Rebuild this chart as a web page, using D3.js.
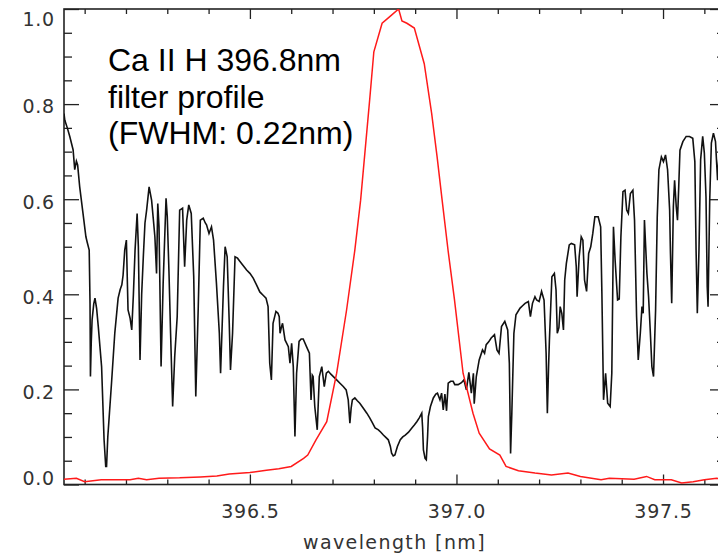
<!DOCTYPE html>
<html>
<head>
<meta charset="utf-8">
<script src="https://cdn.jsdelivr.net/npm/d3@7"></script>
<style>
  html, body { margin: 0; padding: 0; background: #fff; overflow: hidden; }
  svg { display: block; }
</style>
</head>
<body>
<svg id="chart" width="718" height="560"></svg>
<script>
// Solar spectrum around Ca II H (wavelength in nm, normalised intensity)
const spectrumWavelength = [
  396.050, 396.052, 396.058, 396.064, 396.072, 396.076, 396.080, 396.083, 396.088, 396.096,
  396.101, 396.103, 396.106, 396.111, 396.113, 396.114, 396.116, 396.118, 396.122, 396.125,
  396.129, 396.133, 396.141, 396.147, 396.151, 396.153, 396.156, 396.160, 396.165, 396.173,
  396.181, 396.186, 396.190, 396.193, 396.197, 396.201, 396.205, 396.210, 396.214, 396.218,
  396.222, 396.227, 396.230, 396.234, 396.238, 396.242, 396.246, 396.250, 396.256, 396.262,
  396.266, 396.270, 396.274, 396.277, 396.280, 396.285, 396.290, 396.297, 396.300, 396.304,
  396.308, 396.313, 396.318, 396.324, 396.330, 396.337, 396.342, 396.347, 396.352, 396.358,
  396.364, 396.369, 396.375, 396.380, 396.387, 396.392, 396.395, 396.401, 396.407, 396.412,
  396.419, 396.426, 396.429, 396.436, 396.440, 396.445, 396.450, 396.453, 396.458, 396.464,
  396.470, 396.476, 396.484, 396.492, 396.500, 396.508, 396.516, 396.524, 396.532, 396.539,
  396.544, 396.548, 396.552, 396.556, 396.563, 396.568, 396.571, 396.573, 396.576, 396.579,
  396.585, 396.593, 396.597, 396.601, 396.605, 396.609, 396.613, 396.619, 396.624, 396.629,
  396.637, 396.644, 396.648, 396.651, 396.653, 396.657, 396.663, 396.668, 396.674, 396.680,
  396.685, 396.690, 396.696, 396.702, 396.710, 396.718, 396.726, 396.733, 396.738, 396.742,
  396.745, 396.748, 396.754, 396.760, 396.766, 396.775, 396.783, 396.790, 396.795, 396.803,
  396.811, 396.817, 396.823, 396.829, 396.835, 396.840, 396.843, 396.847, 396.851, 396.857,
  396.864, 396.870, 396.876, 396.884, 396.892, 396.898, 396.904, 396.910, 396.916, 396.918,
  396.920, 396.924, 396.927, 396.930, 396.932, 396.937, 396.944, 396.950, 396.954, 396.960,
  396.964, 396.968, 396.972, 396.976, 396.980, 396.986, 396.992, 396.996, 397.004, 397.012,
  397.018, 397.024, 397.030, 397.036, 397.041, 397.043, 397.048, 397.055, 397.063, 397.068,
  397.072, 397.078, 397.084, 397.092, 397.098, 397.103, 397.109, 397.117, 397.124, 397.128,
  397.131, 397.134, 397.139, 397.144, 397.154, 397.160, 397.166, 397.174, 397.179, 397.184,
  397.190, 397.194, 397.200, 397.206, 397.212, 397.217, 397.220, 397.223, 397.225, 397.231,
  397.237, 397.241, 397.244, 397.248, 397.251, 397.255, 397.259, 397.262, 397.266, 397.273,
  397.278, 397.286, 397.290, 397.292, 397.297, 397.302, 397.306, 397.310, 397.315, 397.320,
  397.325, 397.330, 397.335, 397.343, 397.349, 397.352, 397.356, 397.361, 397.366, 397.372,
  397.376, 397.380, 397.384, 397.390, 397.394, 397.398, 397.403, 397.408, 397.412, 397.416,
  397.421, 397.427, 397.431, 397.436, 397.440, 397.445, 397.449, 397.452, 397.455, 397.458,
  397.461, 397.465, 397.469, 397.473, 397.477, 397.482, 397.486, 397.490, 397.496, 397.501,
  397.506, 397.511, 397.516, 397.518, 397.521, 397.525, 397.528, 397.532, 397.535, 397.538,
  397.541, 397.548, 397.556, 397.564, 397.572, 397.577, 397.580, 397.583, 397.587, 397.591,
  397.596, 397.600, 397.604, 397.607, 397.609, 397.613, 397.617, 397.622, 397.627, 397.632,
  397.636, 397.642, 397.650
];
const spectrumIntensity = [
  0.780, 0.766, 0.750, 0.732, 0.704, 0.662, 0.680, 0.672, 0.626, 0.570,
  0.535, 0.521, 0.510, 0.493, 0.380, 0.227, 0.300, 0.346, 0.380, 0.392,
  0.370, 0.332, 0.248, 0.094, 0.038, 0.038, 0.100, 0.150, 0.213, 0.319,
  0.392, 0.410, 0.420, 0.440, 0.493, 0.514, 0.367, 0.350, 0.325, 0.400,
  0.493, 0.570, 0.500, 0.262, 0.400, 0.479, 0.550, 0.577, 0.626, 0.598,
  0.560, 0.521, 0.444, 0.591, 0.542, 0.248, 0.423, 0.602, 0.563, 0.450,
  0.318, 0.164, 0.269, 0.353, 0.577, 0.581, 0.458, 0.556, 0.588, 0.570,
  0.437, 0.185, 0.374, 0.556, 0.560, 0.550, 0.546, 0.528, 0.542, 0.514,
  0.423, 0.318, 0.234, 0.416, 0.500, 0.479, 0.339, 0.241, 0.318, 0.479,
  0.476, 0.469, 0.460, 0.451, 0.444, 0.434, 0.420, 0.405, 0.398, 0.392,
  0.374, 0.255, 0.220, 0.339, 0.364, 0.360, 0.353, 0.318, 0.330, 0.339,
  0.304, 0.290, 0.255, 0.297, 0.248, 0.101, 0.234, 0.301, 0.306, 0.306,
  0.290, 0.276, 0.178, 0.230, 0.227, 0.164, 0.115, 0.227, 0.248, 0.206,
  0.234, 0.238, 0.232, 0.227, 0.220, 0.213, 0.206, 0.199, 0.178, 0.129,
  0.160, 0.178, 0.182, 0.176, 0.171, 0.160, 0.150, 0.140, 0.132, 0.119,
  0.115, 0.110, 0.104, 0.099, 0.094, 0.080, 0.066, 0.060, 0.062, 0.080,
  0.094, 0.100, 0.104, 0.110, 0.119, 0.125, 0.132, 0.140, 0.150, 0.120,
  0.073, 0.055, 0.052, 0.100, 0.143, 0.164, 0.182, 0.190, 0.192, 0.178,
  0.192, 0.157, 0.190, 0.155, 0.213, 0.217, 0.217, 0.210, 0.210, 0.214,
  0.220, 0.199, 0.236, 0.192, 0.234, 0.170, 0.227, 0.262, 0.283, 0.276,
  0.294, 0.300, 0.308, 0.315, 0.283, 0.276, 0.332, 0.343, 0.325, 0.255,
  0.065, 0.150, 0.318, 0.357, 0.371, 0.376, 0.381, 0.385, 0.353, 0.381,
  0.395, 0.388, 0.385, 0.406, 0.388, 0.276, 0.150, 0.250, 0.304, 0.437,
  0.444, 0.409, 0.318, 0.330, 0.374, 0.360, 0.325, 0.430, 0.465, 0.504,
  0.507, 0.504, 0.458, 0.395, 0.479, 0.521, 0.514, 0.430, 0.406, 0.486,
  0.500, 0.528, 0.563, 0.563, 0.542, 0.402, 0.178, 0.234, 0.171, 0.164,
  0.234, 0.542, 0.472, 0.388, 0.390, 0.521, 0.616, 0.619, 0.577, 0.570,
  0.612, 0.619, 0.556, 0.353, 0.262, 0.318, 0.374, 0.360, 0.556, 0.500,
  0.444, 0.395, 0.325, 0.248, 0.227, 0.367, 0.563, 0.662, 0.689, 0.679,
  0.693, 0.662, 0.577, 0.486, 0.381, 0.584, 0.640, 0.584, 0.556, 0.626,
  0.703, 0.721, 0.732, 0.732, 0.728, 0.679, 0.493, 0.360, 0.493, 0.683,
  0.732, 0.697, 0.605, 0.416, 0.374, 0.598, 0.718, 0.739, 0.721, 0.640,
  0.700, 0.730, 0.720
];

// Ca II H filter transmission profile
const filterWavelength = [
  396.050, 396.080, 396.100, 396.140, 396.210, 396.230, 396.250, 396.280, 396.330, 396.380,
  396.420, 396.450, 396.500, 396.540, 396.570, 396.600, 396.630, 396.640, 396.660, 396.686,
  396.710, 396.734, 396.754, 396.768, 396.790, 396.800, 396.820, 396.840, 396.860, 396.868,
  396.880, 396.898, 396.922, 396.940, 396.953, 396.965, 396.980, 396.995, 397.016, 397.040,
  397.055, 397.080, 397.105, 397.120, 397.150, 397.190, 397.230, 397.270, 397.300, 397.350,
  397.370, 397.430, 397.460, 397.480, 397.520, 397.545, 397.573, 397.600, 397.630, 397.650
];
const filterTransmission = [
  0.011, 0.013, 0.006, 0.010, 0.010, 0.013, 0.010, 0.013, 0.014, 0.016,
  0.018, 0.022, 0.025, 0.030, 0.033, 0.038, 0.055, 0.062, 0.094, 0.132,
  0.234, 0.367, 0.493, 0.598, 0.810, 0.910, 0.970, 0.985, 1.000, 0.975,
  0.970, 0.960, 0.885, 0.780, 0.690, 0.600, 0.490, 0.390, 0.234, 0.150,
  0.108, 0.075, 0.062, 0.038, 0.029, 0.024, 0.020, 0.024, 0.017, 0.010,
  0.013, 0.011, 0.017, 0.010, 0.010, 0.003, 0.006, 0.010, 0.013, 0.012
];

const xMajorTicks = [396.5, 397.0, 397.5];
const yMajorTicks = [0.0, 0.2, 0.4, 0.6, 0.8, 1.0];
const annotationLines = ["Ca II H 396.8nm", "filter profile", "(FWHM: 0.22nm)"];
const xTitle = "wavelength [nm]";

const svg = d3.select("#chart");
const plot = { left: 64, right: 725, top: 9, bottom: 484.5 };

const x = d3.scaleLinear().domain([396.05, 397.65]).range([plot.left, plot.right]);
const y = d3.scaleLinear().domain([0, 1]).range([plot.bottom, plot.top]);

const xMinor = d3.range(396.1, 397.65, 0.1).map(v => +v.toFixed(2))
  .filter(v => !xMajorTicks.some(m => Math.abs(m - v) < 1e-6));
const yMinor = d3.range(0.05, 1.0, 0.05).map(v => +v.toFixed(2))
  .filter(v => !yMajorTicks.some(m => Math.abs(m - v) < 1e-6));

svg.append("defs").append("clipPath").attr("id", "plotClip")
  .append("rect")
  .attr("x", plot.left).attr("y", plot.top)
  .attr("width", plot.right - plot.left).attr("height", plot.bottom - plot.top);

const axisColor = "#222";
const labelFont = "'DejaVu Sans', sans-serif";

function styleAxis(g) {
  g.select(".domain").remove();
  g.selectAll(".tick line").attr("stroke", axisColor).attr("stroke-width", 1.3);
  g.selectAll("text").attr("font-family", labelFont).attr("font-size", 19)
    .attr("letter-spacing", "0.8px").attr("fill", "#333");
}

// bottom axis: major ticks with labels, minor ticks without
svg.append("g").attr("transform", `translate(0,${plot.bottom})`)
  .call(d3.axisBottom(x).tickValues(xMajorTicks).tickSize(-10).tickPadding(20).tickFormat(d3.format(".1f")))
  .call(styleAxis);
svg.append("g").attr("transform", `translate(0,${plot.bottom})`)
  .call(d3.axisBottom(x).tickValues(xMinor).tickSize(-5).tickFormat(""))
  .call(styleAxis);
// top axis
svg.append("g").attr("transform", `translate(0,${plot.top})`)
  .call(d3.axisTop(x).tickValues(xMajorTicks).tickSize(-10).tickFormat(""))
  .call(styleAxis);
svg.append("g").attr("transform", `translate(0,${plot.top})`)
  .call(d3.axisTop(x).tickValues(xMinor).tickSize(-5).tickFormat(""))
  .call(styleAxis);

// left axis with labels kept inside the frame
const leftAxis = svg.append("g").attr("transform", `translate(${plot.left},0)`)
  .call(d3.axisLeft(y).tickValues(yMajorTicks).tickSize(-15).tickPadding(9).tickFormat(d3.format(".1f")))
  .call(styleAxis);
leftAxis.selectAll(".tick").each(function (d) {
  const ty = y(d);
  const cy = Math.min(Math.max(ty + 2, plot.top + 9.5), plot.bottom - 6.5);
  d3.select(this).select("text").attr("y", cy - ty).attr("dy", "0.36em");
});
svg.append("g").attr("transform", `translate(${plot.left},0)`)
  .call(d3.axisLeft(y).tickValues(yMinor).tickSize(-8).tickFormat(""))
  .call(styleAxis);
// right axis
svg.append("g").attr("transform", `translate(${plot.right},0)`)
  .call(d3.axisRight(y).tickValues(yMajorTicks).tickSize(-15).tickFormat(""))
  .call(styleAxis);
svg.append("g").attr("transform", `translate(${plot.right},0)`)
  .call(d3.axisRight(y).tickValues(yMinor).tickSize(-8).tickFormat(""))
  .call(styleAxis);

// frame
svg.append("rect")
  .attr("x", plot.left).attr("y", plot.top)
  .attr("width", plot.right - plot.left).attr("height", plot.bottom - plot.top)
  .attr("fill", "none").attr("stroke", axisColor).attr("stroke-width", 1.6);

const lineGen = d3.line().x(d => x(d[0])).y(d => y(d[1]));
const layer = svg.append("g").attr("clip-path", "url(#plotClip)");

layer.append("path")
  .datum(d3.zip(spectrumWavelength, spectrumIntensity))
  .attr("d", lineGen)
  .attr("fill", "none").attr("stroke", "#111").attr("stroke-width", 1.6)
  .attr("stroke-linejoin", "miter");

layer.append("path")
  .datum(d3.zip(filterWavelength, filterTransmission))
  .attr("d", lineGen)
  .attr("fill", "none").attr("stroke", "#ff1a1a").attr("stroke-width", 1.5);

// annotation block
const note = svg.append("text")
  .attr("font-family", "'Liberation Sans', Arial, sans-serif")
  .attr("font-size", 32).attr("fill", "#000");
annotationLines.forEach((t, i) => {
  note.append("tspan").attr("x", 108).attr("y", 71 + i * 36.5).text(t);
});

// x-axis title
svg.append("text")
  .attr("x", (plot.left + plot.right) / 2).attr("y", 549)
  .attr("text-anchor", "middle")
  .attr("font-family", labelFont).attr("font-size", 19)
  .attr("letter-spacing", "1.4px").attr("fill", "#333")
  .text(xTitle);
</script>
</body>
</html>
